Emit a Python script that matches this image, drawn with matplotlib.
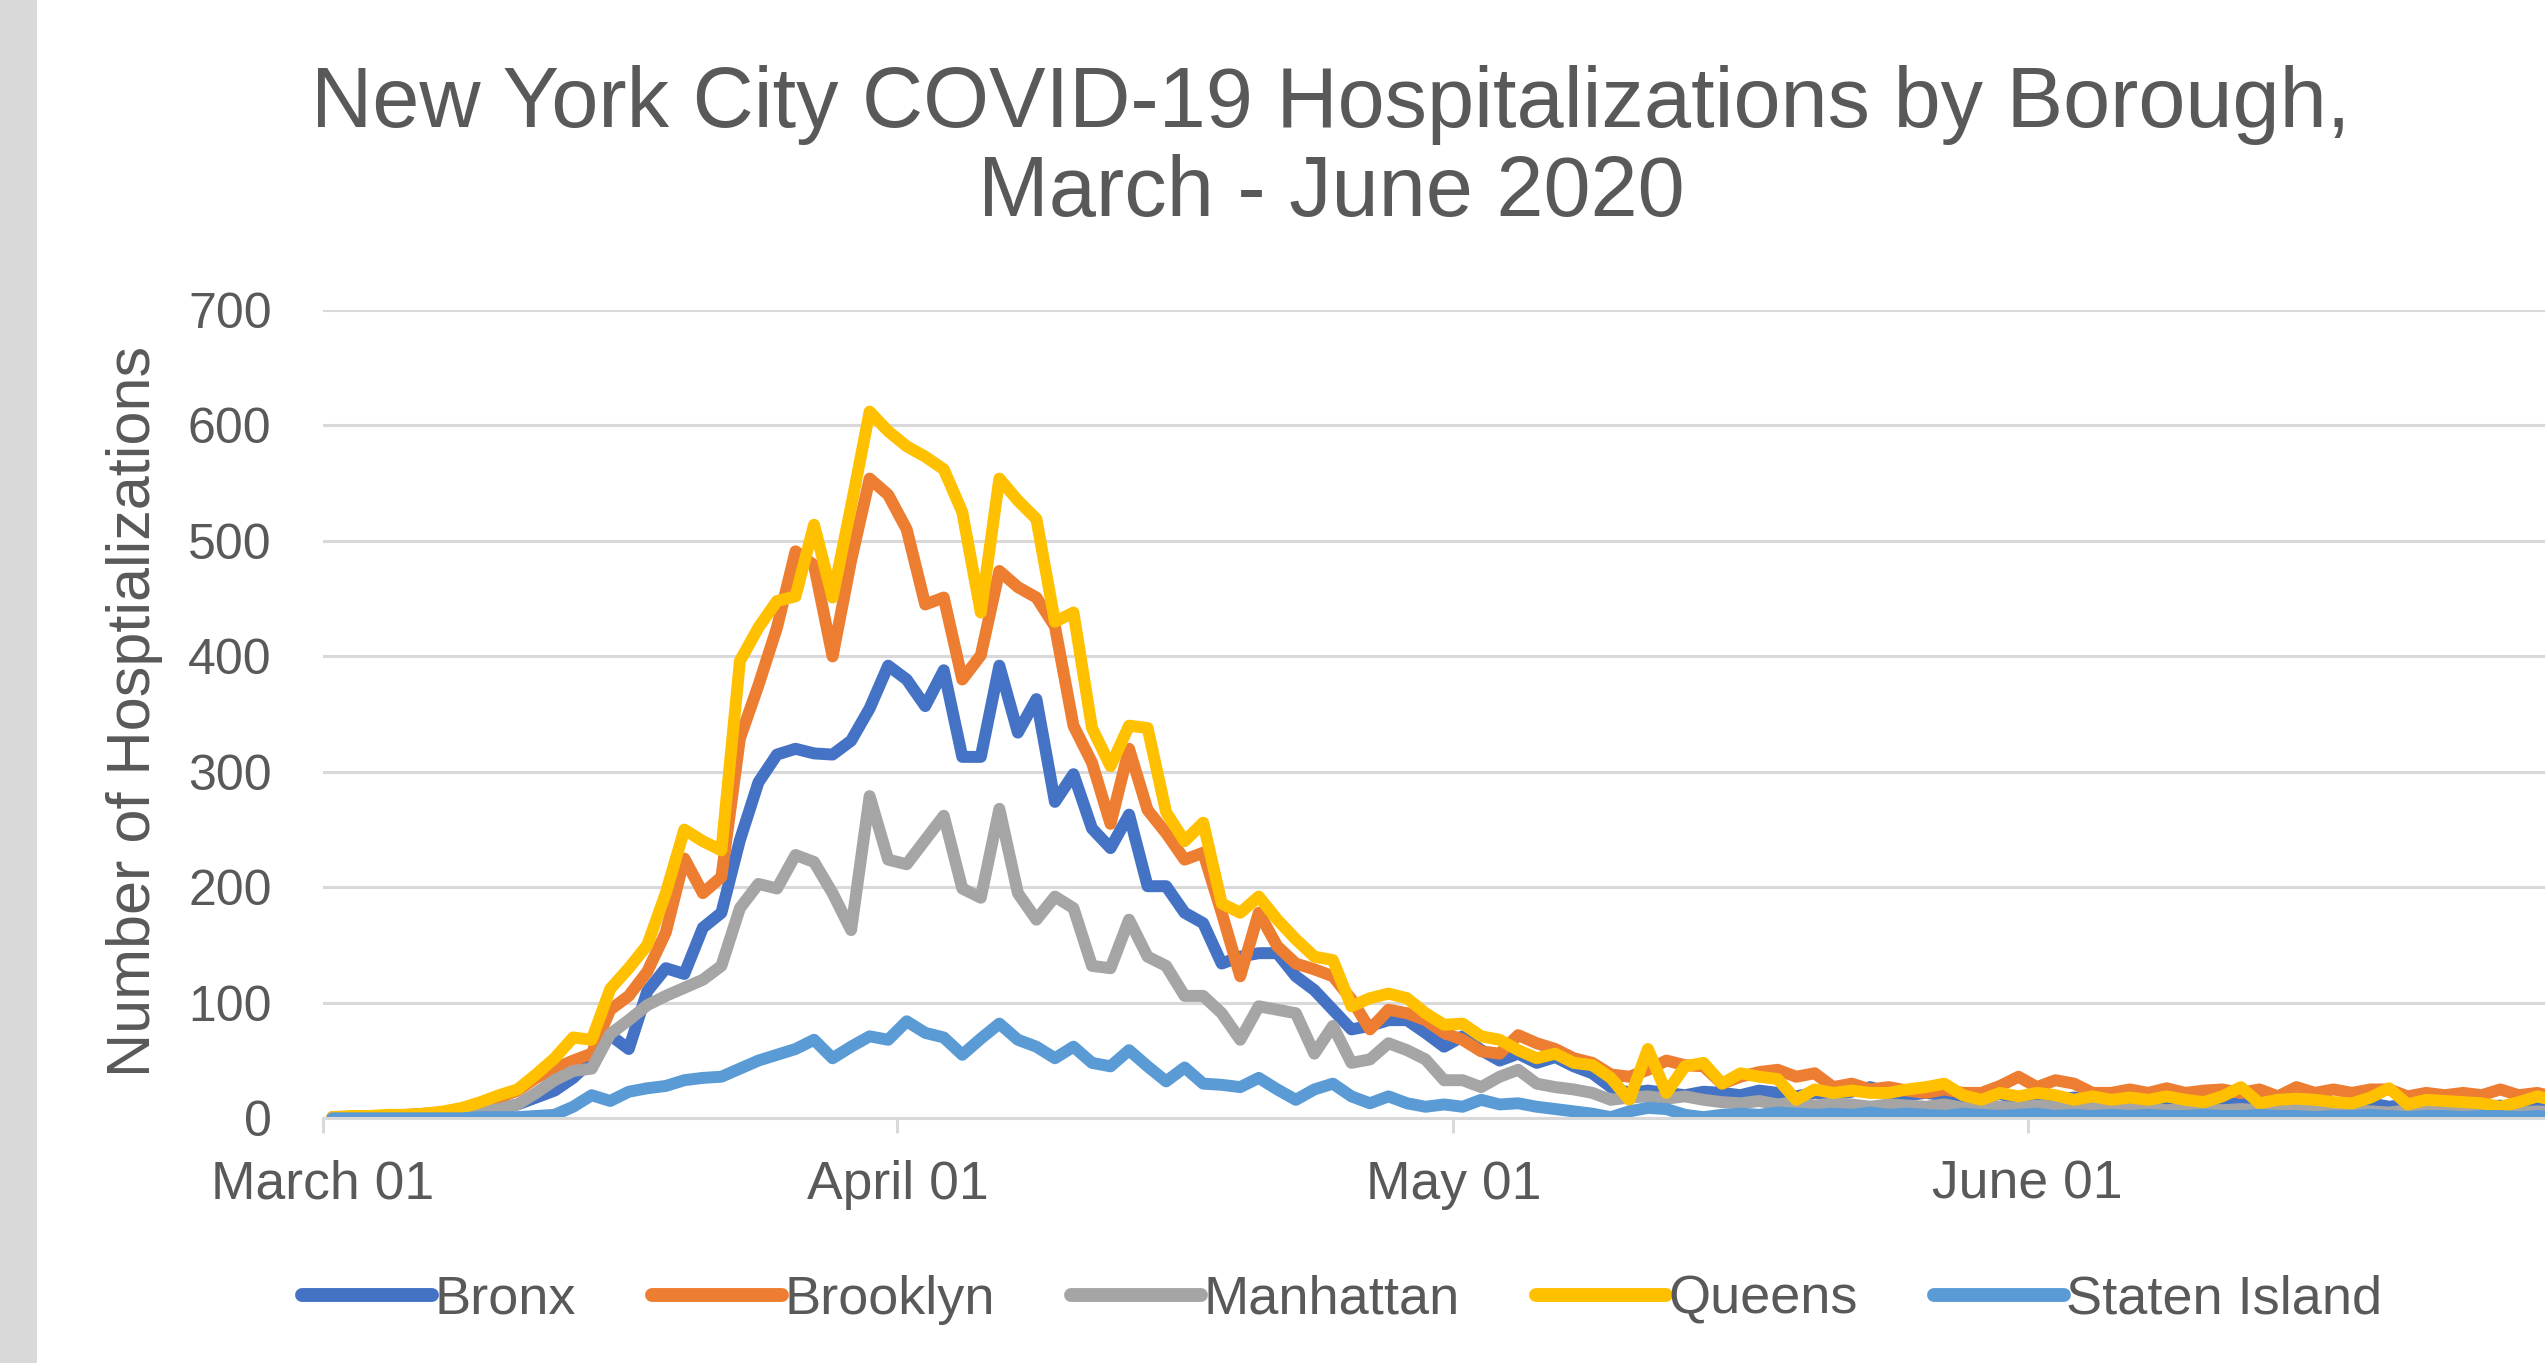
import numpy as np
import pandas as pd
import matplotlib
matplotlib.use("Agg")
import matplotlib.pyplot as plt

# ---------------- data ----------------
start_date = "2020-03-01"
end_date = "2020-06-30"
tick_labels = ["March 01", "April 01", "May 01", "June 01"]
tick_dates = ["2020-03-01", "2020-04-01", "2020-05-01", "2020-06-01"]
boroughs = ["Bronx", "Brooklyn", "Manhattan", "Queens", "Staten Island"]

bronx = [0, 1, 1, 1, 2, 2, 3, 4, 6, 8, 12, 18, 24, 35, 50, 72, 60, 110, 130, 125,
         165, 178, 241, 291, 315, 320, 316, 315, 327, 355, 392, 380, 357, 388, 313, 313, 392, 334, 363, 274,
         298, 251, 234, 263, 201, 201, 178, 169, 134, 140, 143, 143, 123, 111, 94, 77, 80, 85, 85, 74,
         62, 71, 59, 50, 56, 48, 53, 45, 39, 27, 22, 24, 22, 20, 23, 22, 20, 24, 22, 19,
         22, 21, 23, 27, 22, 20, 22, 20, 18, 19, 21, 17, 18, 16, 18, 15, 17, 14, 16, 15,
         13, 15, 14, 12, 14, 13, 12, 14, 11, 12, 13, 10, 12, 11, 10, 12, 10, 11, 9, 11,
         10, 9]

brooklyn = [1, 1, 2, 2, 3, 4, 5, 8, 12, 18, 24, 35, 43, 50, 56, 94, 106, 127, 161, 225,
            195, 209, 329, 375, 425, 491, 479, 400, 483, 554, 540, 510, 445, 451, 380, 401, 474, 460, 451, 426,
            340, 308, 255, 320, 267, 247, 224, 230, 178, 123, 178, 149, 134, 129, 123, 103, 77, 94, 91, 85,
            74, 68, 58, 56, 72, 65, 60, 52, 48, 38, 36, 42, 50, 46, 45, 30, 36, 40, 42, 36,
            39, 27, 30, 25, 27, 24, 22, 25, 22, 22, 28, 36, 27, 33, 30, 22, 22, 25, 22, 26,
            22, 24, 25, 22, 25, 19, 27, 22, 25, 22, 25, 25, 19, 22, 20, 22, 20, 25, 20, 22,
            18, 17]

manhattan = [0, 1, 1, 1, 2, 2, 3, 4, 6, 8, 12, 22, 33, 41, 43, 73, 85, 98, 106, 113,
             120, 132, 182, 203, 199, 228, 222, 195, 163, 279, 224, 220, 241, 262, 199, 191, 268, 195, 172, 192,
             182, 132, 130, 172, 140, 132, 106, 106, 91, 68, 97, 94, 91, 56, 80, 48, 51, 65, 59, 51,
             33, 33, 27, 36, 42, 30, 27, 25, 22, 16, 18, 19, 17, 19, 16, 14, 13, 15, 12, 14,
             11, 13, 12, 10, 12, 11, 10, 12, 9, 11, 10, 9, 11, 10, 8, 9, 10, 8, 9, 7,
             8, 9, 7, 8, 7, 6, 8, 7, 6, 7, 6, 5, 7, 6, 5, 6, 5, 6, 5, 6,
             5, 4]

queens = [1, 2, 2, 3, 3, 4, 6, 9, 14, 20, 25, 38, 52, 70, 68, 112, 130, 150, 195, 250,
          240, 232, 396, 425, 448, 452, 514, 451, 530, 612, 595, 582, 573, 562, 525, 438, 554, 535, 519, 430,
          438, 338, 305, 340, 338, 265, 240, 256, 186, 178, 192, 172, 155, 140, 137, 97, 104, 108, 104, 91,
          81, 82, 71, 68, 59, 52, 56, 48, 46, 35, 16, 60, 22, 45, 48, 30, 39, 36, 34, 16,
          25, 22, 24, 22, 22, 25, 27, 30, 20, 16, 22, 19, 22, 20, 16, 19, 16, 18, 16, 19,
          16, 14, 19, 27, 13, 16, 17, 16, 14, 13, 18, 26, 12, 16, 15, 14, 13, 10, 14, 19,
          15, 13]

staten_island = [0, 0, 0, 0, 0, 0, 0, 0, 1, 1, 1, 2, 3, 10, 20, 15, 23, 26, 28, 33,
                 35, 36, 43, 50, 55, 60, 68, 52, 62, 71, 68, 84, 74, 70, 55, 69, 82, 68, 62, 52,
                 62, 48, 45, 59, 45, 32, 44, 30, 29, 27, 35, 25, 16, 25, 30, 19, 13, 19, 13, 10,
                 12, 10, 16, 12, 13, 10, 8, 6, 4, 1, 6, 9, 8, 3, 1, 3, 4, 3, 5, 4,
                 3, 4, 3, 5, 3, 4, 3, 2, 4, 3, 2, 3, 4, 2, 3, 2, 3, 2, 3, 2,
                 2, 3, 2, 2, 3, 2, 2, 1, 2, 2, 3, 2, 1, 2, 2, 1, 2, 2, 1, 2,
                 1, 2]

colors = ["#4472C4", "#ED7D31", "#A5A5A5", "#FFC000", "#5B9BD5"]

# ---------------- figure ----------------
W, H, DPI = 2545, 1363, 100
fig = plt.figure(figsize=(W / DPI, H / DPI), dpi=DPI)
fig.patch.set_facecolor("white")
plt.rcParams["font.family"] = ["Liberation Sans", "DejaVu Sans"]
txt = "#595959"
grid_c = "#D9D9D9"

# gray strip on the left edge
fig.patches.append(plt.Rectangle((0, 0), 37 / W, 1, transform=fig.transFigure,
                                 facecolor="#D9D9D9", edgecolor="none", zorder=0))

dates = pd.date_range(start_date, end_date, freq="D")
day0 = dates[0]
xs = np.asarray((dates - day0).days, dtype=float) + 0.5
tick_pos = [(pd.Timestamp(t) - day0).days for t in tick_dates]

x0_px = 323.0
left = x0_px / W
bottom = (H - 1118.3) / H
top = (H - 310.0) / H
ax = fig.add_axes([left, bottom, 1 - left, top - bottom])
px_per_day = 18.53
ax.set_xlim(0, (W - x0_px) / px_per_day)
ax.set_ylim(0, 700)

series = [bronx, brooklyn, manhattan, queens, staten_island]
for name, vals, c in zip(boroughs, series, colors):
    ax.plot(xs, vals, color=c, lw=8.6, label=name, solid_joinstyle="round",
            solid_capstyle="round", clip_on=True)

ax.set_yticks(np.arange(0, 701, 100))
ax.yaxis.grid(True, color=grid_c, lw=2.2)
ax.set_axisbelow(True)
for s in ["top", "right", "left"]:
    ax.spines[s].set_visible(False)
ax.spines["bottom"].set_color(grid_c)
ax.spines["bottom"].set_linewidth(2.2)
ax.tick_params(axis="y", length=0, pad=37, labelsize=36, labelcolor=txt)
ax.set_xticks(tick_pos)
ax.set_xticklabels(tick_labels)
ax.tick_params(axis="x", length=11, width=2.2, color=grid_c, pad=19,
               labelsize=38.5, labelcolor=txt)

fig.text(135 / W, (H - 711) / H, "Number of Hosptializations", rotation=90,
         ha="center", va="center", fontsize=44, color=txt)

cx = 1331 / W
fig.text(cx, (H - 126.6) / H, "New York City COVID-19 Hospitalizations by Borough,",
         ha="center", va="baseline", fontsize=61, color=txt)
fig.text(cx, (H - 215.9) / H, "March - June 2020",
         ha="center", va="baseline", fontsize=61, color=txt)

leg = fig.legend(loc="center", bbox_to_anchor=(1342 / W, (H - 1300) / H), ncol=5,
                 frameon=False, fontsize=39, handlelength=2.4, handletextpad=0.05,
                 columnspacing=1.4, labelcolor=txt)
for lh in leg.get_lines():
    lh.set_linewidth(10)
    lh.set_solid_capstyle("round")

fig.savefig("out.png", dpi=DPI, facecolor="white")
